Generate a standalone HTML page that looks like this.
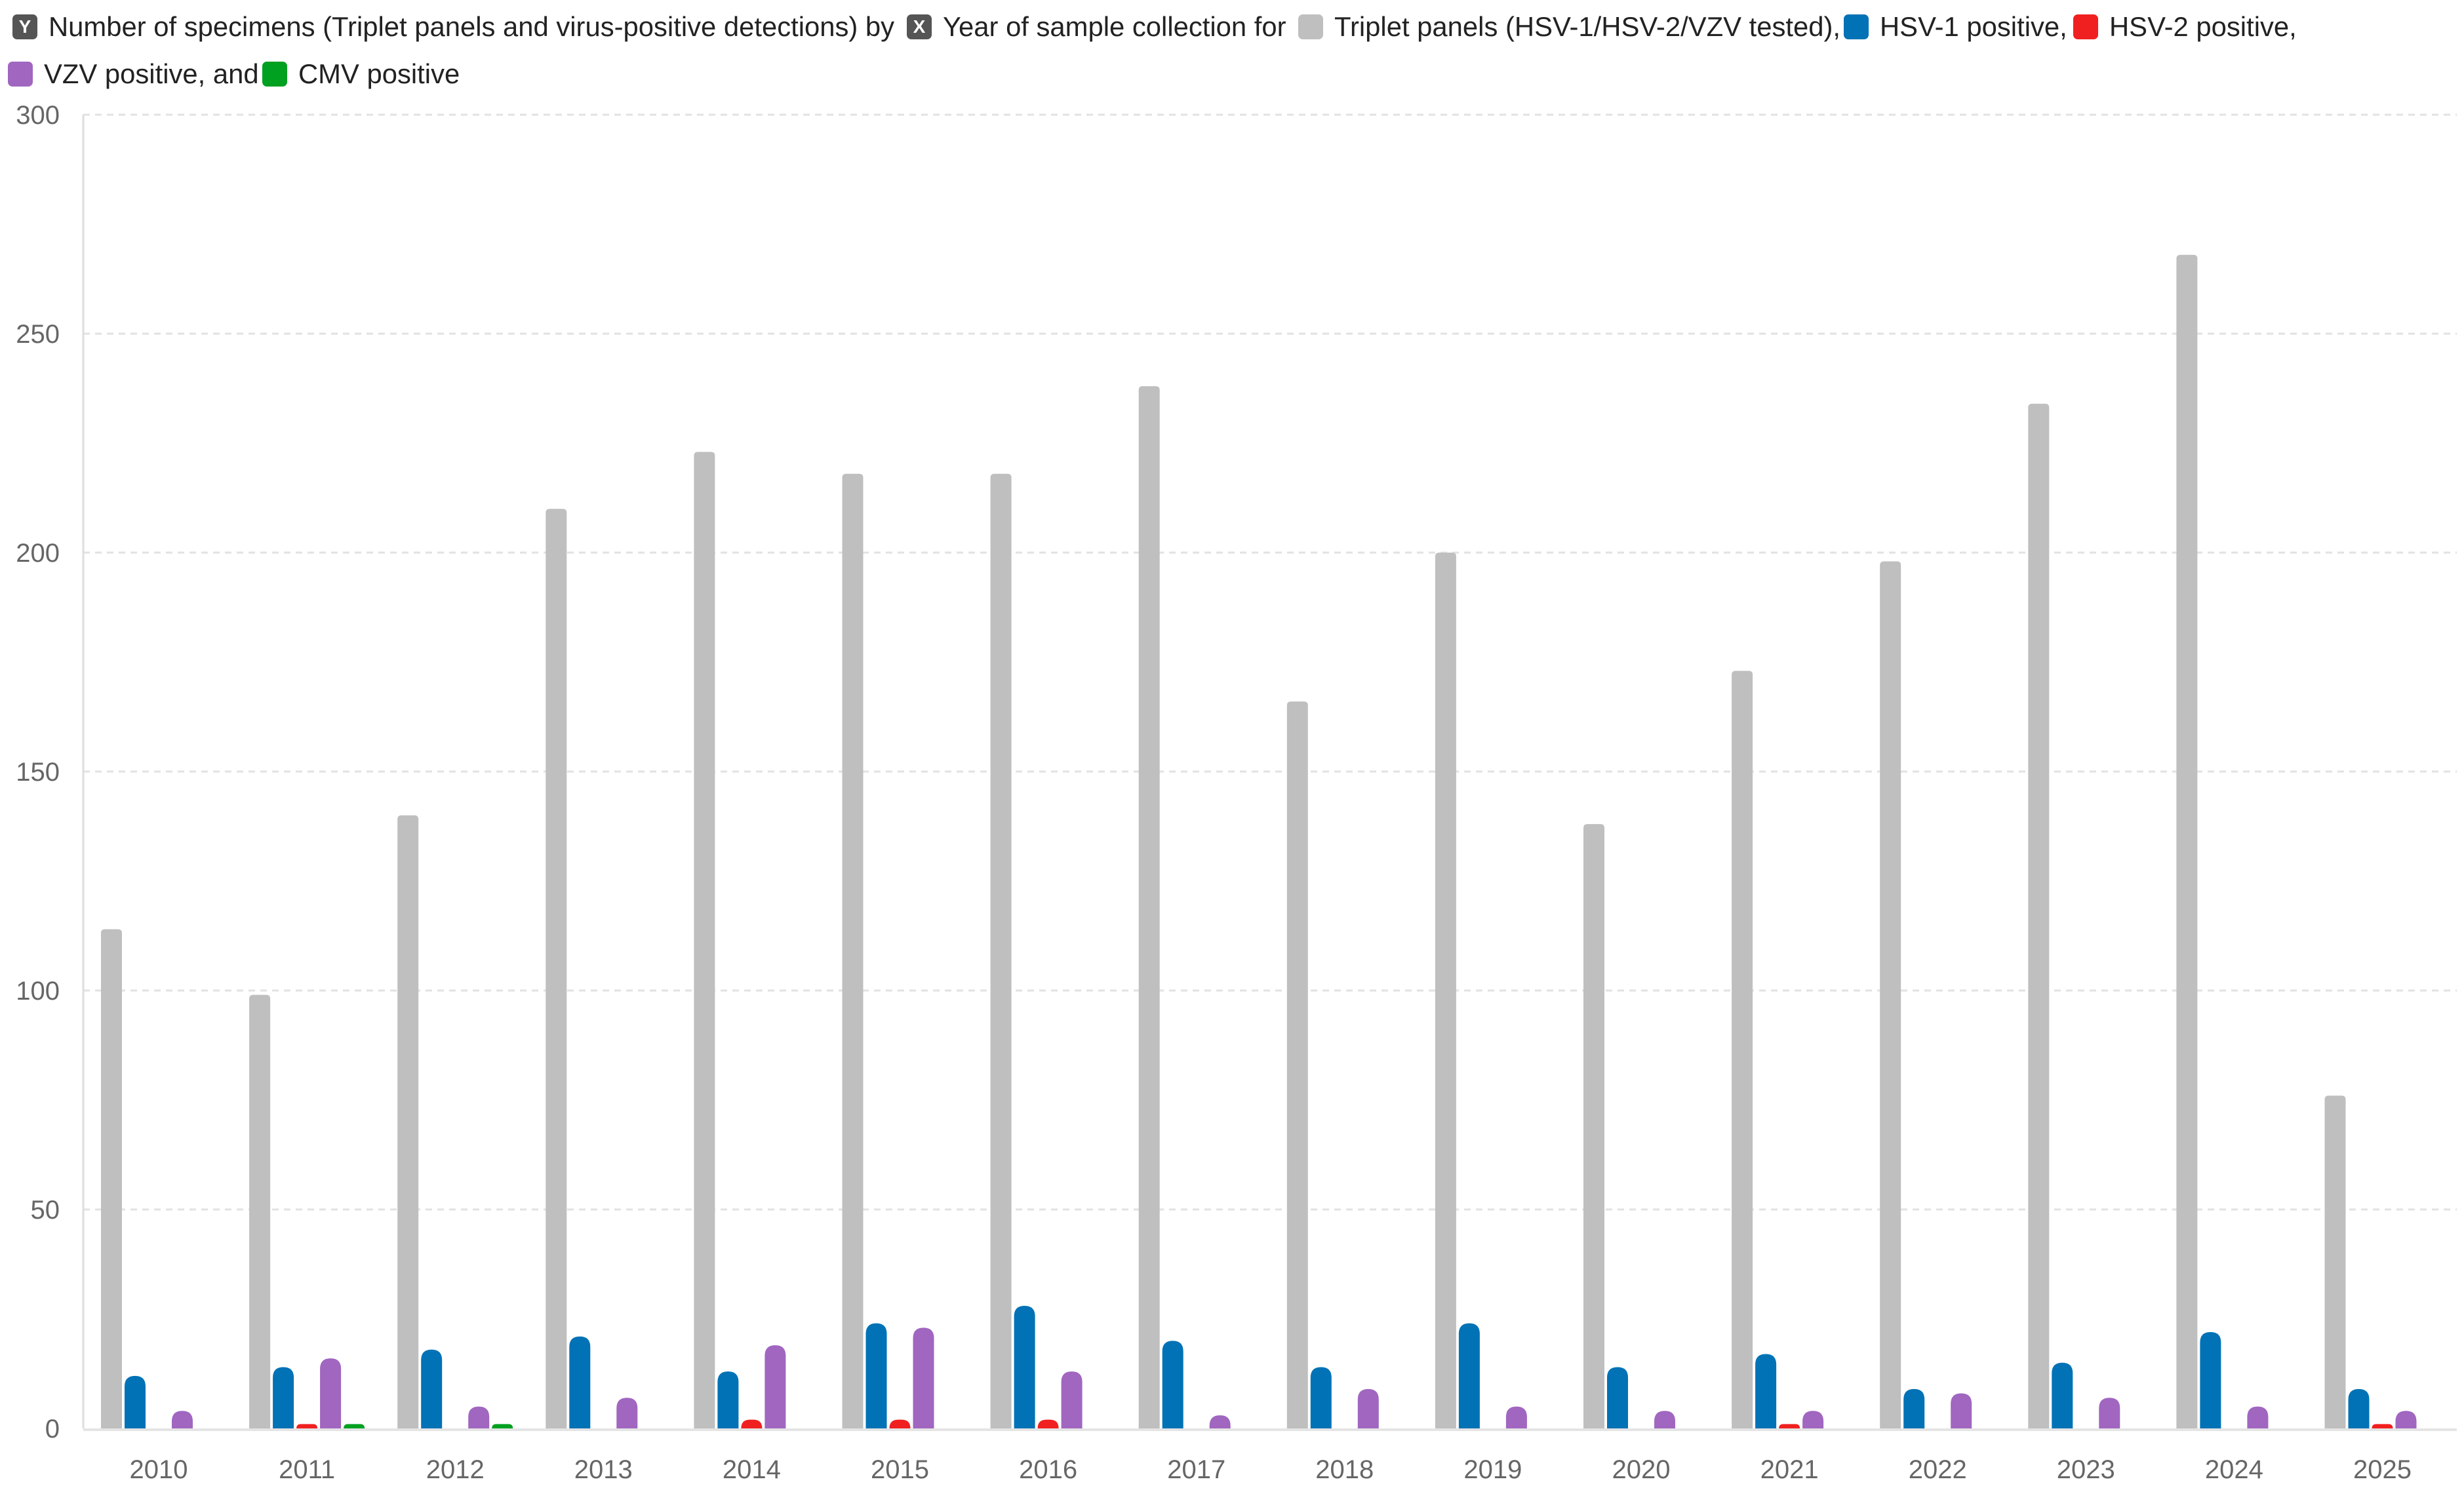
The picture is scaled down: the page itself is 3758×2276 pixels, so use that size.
<!DOCTYPE html>
<html><head><meta charset="utf-8"><style>
body{margin:0;background:#fff;width:3758px;height:2276px;overflow:hidden;font-family:"Liberation Sans",sans-serif}
.lg{position:absolute;font-size:41.8px;color:#222;white-space:nowrap;line-height:48px}
.sw{position:absolute;width:38px;height:38px;border-radius:7px}
.bd{position:absolute;width:38px;height:38px;border-radius:7px;background:#555;color:#fff;font-size:28px;font-weight:bold;text-align:center;line-height:38px}
</style></head><body>
<div>
<div class="bd" style="left:19px;top:22px">Y</div>
<div class="lg" style="left:74px;top:17px">Number of specimens (Triplet panels and virus-positive detections) by</div>
<div class="bd" style="left:1383px;top:22px">X</div>
<div class="lg" style="left:1438px;top:17px">Year of sample collection for</div>
<div class="sw" style="left:1980px;top:22px;background:#bfbfbf"></div>
<div class="lg" style="left:2035px;top:17px">Triplet panels (HSV-1/HSV-2/VZV tested),</div>
<div class="sw" style="left:2812px;top:22px;background:#0072b5"></div>
<div class="lg" style="left:2867px;top:17px">HSV-1 positive,</div>
<div class="sw" style="left:3162px;top:22px;background:#f02020"></div>
<div class="lg" style="left:3217px;top:17px">HSV-2 positive,</div>
<div class="sw" style="left:12px;top:94px;background:#a066c0"></div>
<div class="lg" style="left:67px;top:89px">VZV positive, and</div>
<div class="sw" style="left:400px;top:94px;background:#00a020"></div>
<div class="lg" style="left:455px;top:89px">CMV positive</div>
</div>
<svg id="chart" width="3758" height="2276" style="position:absolute;left:0;top:0"></svg>
<script>
const years=["2010","2011","2012","2013","2014","2015","2016","2017","2018","2019","2020","2021","2022","2023","2024","2025"];
const triplet=[114,99,140,210,223,218,218,238,166,200,138,173,198,234,268,76];
const hsv1=[12,14,18,21,13,24,28,20,14,24,14,17,9,15,22,9];
const hsv2=[0,1,0,0,2,2,2,0,0,0,0,1,0,0,0,1];
const vzv=[4,16,5,7,19,23,13,3,9,5,4,4,8,7,5,4];
const cmv=[0,1,1,0,0,0,0,0,0,0,0,0,0,0,0,0];
const yTicks=[0,50,100,150,200,250,300];
const NS="http://www.w3.org/2000/svg";
const svg=document.getElementById('chart');
const x0=127,x1=3747,yTop=175,yBase=2179,yMax=300;
const y=v=>yBase-(v/yMax)*(yBase-yTop);
const xc=i=>242+i*226.1;
function mk(t,a){const e=document.createElementNS(NS,t);for(const k in a)e.setAttribute(k,a[k]);svg.appendChild(e);return e;}
yTicks.forEach(v=>{
  if(v>0){const g=mk('line',{x1:x0,x2:x1,y1:y(v),y2:y(v),stroke:'#e2e2e2','stroke-width':3,'stroke-dasharray':'10,8'});
  
  }
  const t=mk('text',{x:91,y:y(v)+14,'text-anchor':'end','font-size':40,fill:'#666','font-family':'Liberation Sans, sans-serif'});
  t.textContent=v;
  
  
});
const ax=mk('line',{x1:x0,x2:x0,y1:yTop,y2:yBase,stroke:'#ddd','stroke-width':3});


const bx=mk('line',{x1:x0,x2:x1,y1:yBase+2,y2:yBase+2,stroke:'#e4e4e4','stroke-width':4});


const series=[[triplet,'#bfbfbf',-72,'triplet',false],[hsv1,'#0072b5',-36,'hsv1',true],[hsv2,'#f02020',0,'hsv2',true],[vzv,'#a066c0',36,'vzv',true],[cmv,'#00a020',72,'cmv',true]];
const bw=32;
years.forEach((yr,i)=>{
  series.forEach(([arr,col,off,nm,rnd])=>{
    const v=arr[i]; if(v<=0) return;
    const top=y(v),left=xc(i)+off-bw/2,h=yBase-top,r=rnd?Math.min(bw/2,h):6;
    const p=mk('path',{d:`M${left},${yBase}V${top+r}Q${left},${top} ${left+r},${top}H${left+bw-r}Q${left+bw},${top} ${left+bw},${top+r}V${yBase}Z`,fill:col});
    
    
  });
  const t=mk('text',{x:xc(i),y:2255,'text-anchor':'middle','font-size':40,fill:'#666','font-family':'Liberation Sans, sans-serif'});
  t.textContent=yr;
  
  
});
</script>
</body></html>
